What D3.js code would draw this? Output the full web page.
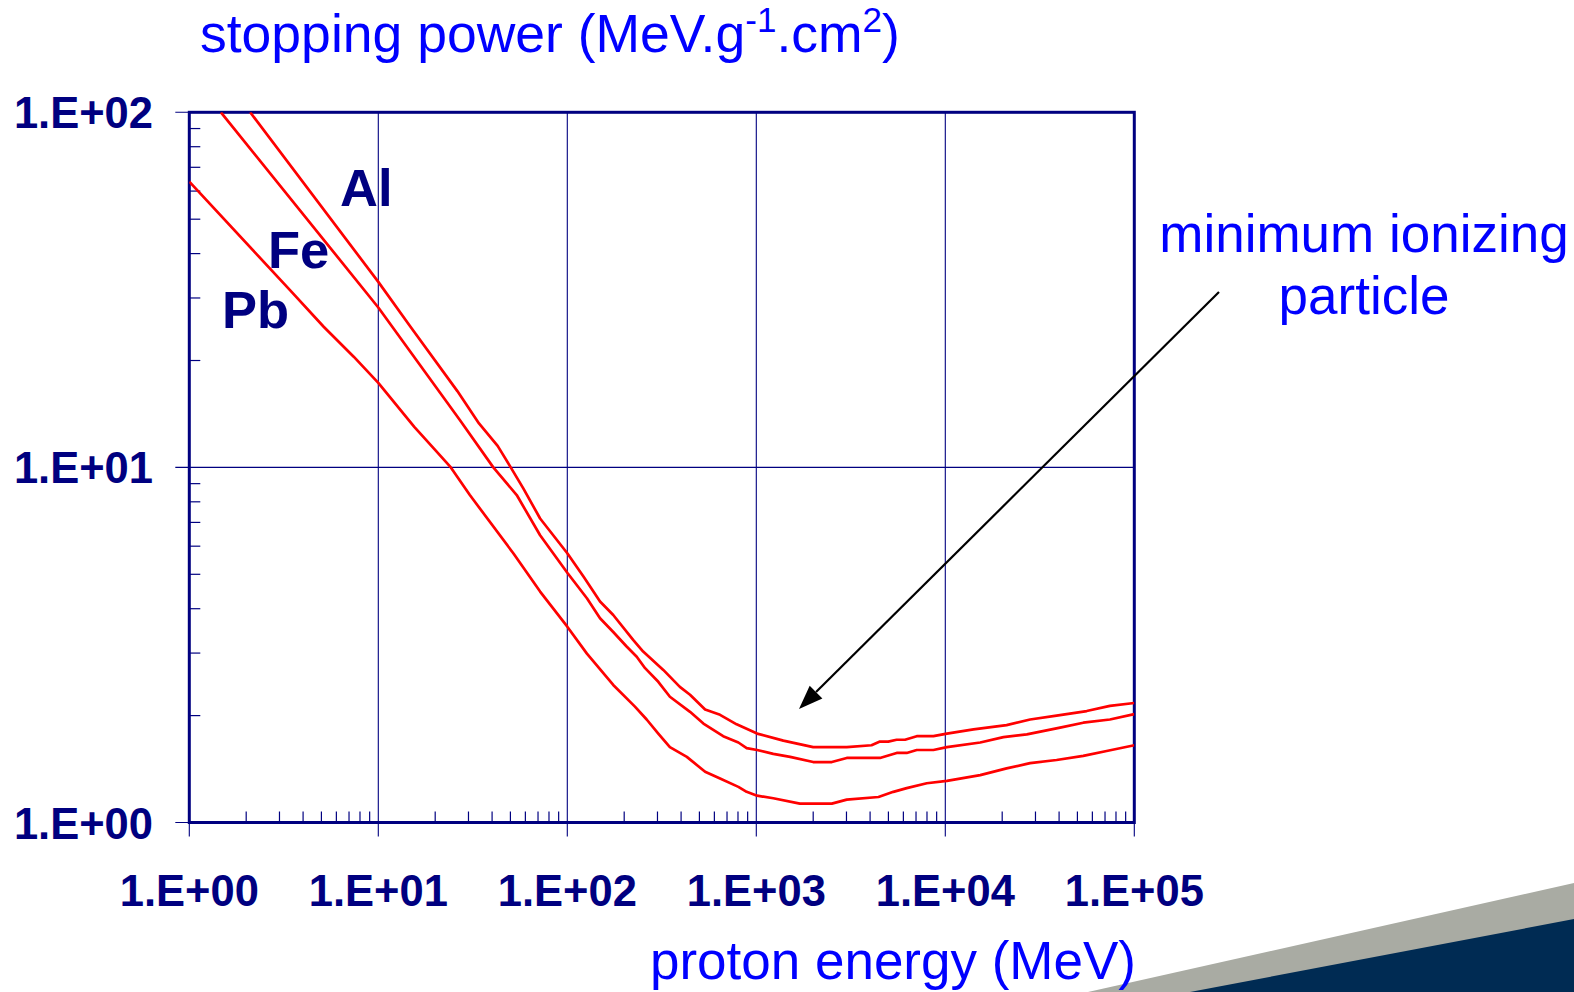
<!DOCTYPE html>
<html>
<head>
<meta charset="utf-8">
<script src="https://cdn.jsdelivr.net/npm/d3@7"></script>
<style>
  html, body { margin: 0; padding: 0; background: #fff; }
  svg { display: block; font-family: "Liberation Sans", Arial, Helvetica, sans-serif; }
</style>
</head>
<body>
<svg id="chart" width="1574" height="992"></svg>
<script>
// ---- data (proton energy in MeV, stopping power in MeV.g-1.cm2) ----
const alEnergy = [2.1, 10, 14.8, 26.2, 34.1, 42.8, 50.2, 58.5, 71.8, 100, 122, 149, 175, 223, 252, 322, 394, 446, 536, 643, 787, 1010, 1390, 2000, 3010, 4070, 4510, 4990, 5530, 6120, 7060, 8650, 10200, 14100, 21100, 28100, 38800, 56000, 74300, 100000];
const alStopping = [100, 33.3, 24.9, 16.4, 13.3, 11.5, 10.0, 8.73, 7.18, 5.73, 4.92, 4.19, 3.84, 3.27, 3.03, 2.69, 2.41, 2.29, 2.08, 2.01, 1.89, 1.78, 1.70, 1.63, 1.63, 1.65, 1.69, 1.69, 1.71, 1.71, 1.75, 1.75, 1.78, 1.83, 1.88, 1.95, 2.00, 2.06, 2.13, 2.17];

const feEnergy = [1.47, 10, 27.0, 40.6, 54.0, 71.8, 100, 127, 149, 175, 206, 233, 258, 303, 349, 446, 525, 668, 804, 889, 1010, 1230, 1510, 2000, 2510, 3010, 4510, 5530, 6250, 7060, 8650, 10200, 15300, 20300, 27000, 40500, 53700, 74300, 100000];
const feStopping = [100, 28.2, 13.6, 10.0, 8.36, 6.44, 5.05, 4.28, 3.76, 3.44, 3.13, 2.93, 2.72, 2.49, 2.26, 2.05, 1.90, 1.75, 1.68, 1.62, 1.60, 1.56, 1.53, 1.48, 1.48, 1.52, 1.52, 1.57, 1.57, 1.60, 1.60, 1.63, 1.68, 1.74, 1.77, 1.85, 1.91, 1.95, 2.02];

const pbEnergy = [1.0, 3.42, 5.14, 7.41, 10, 15.5, 19.7, 24.2, 30.5, 51.8, 71.8, 100, 127, 175, 228, 263, 303, 349, 429, 536, 643, 804, 889, 1010, 1230, 1700, 2510, 3010, 4430, 5310, 6250, 7980, 10200, 15300, 21100, 28100, 38800, 53700, 71400, 100000];
const pbStopping = [63.8, 31.5, 24.9, 20.5, 17.3, 13.0, 11.3, 10.0, 8.36, 5.73, 4.47, 3.56, 2.99, 2.44, 2.12, 1.95, 1.78, 1.63, 1.53, 1.39, 1.33, 1.26, 1.22, 1.19, 1.17, 1.13, 1.13, 1.16, 1.18, 1.22, 1.25, 1.29, 1.31, 1.36, 1.42, 1.47, 1.50, 1.54, 1.59, 1.65];

const seriesNames = ["Al", "Fe", "Pb"];
const xMajorTicks = [1, 10, 100, 1000, 10000, 100000];
const xTickLabels = ["1.E+00", "1.E+01", "1.E+02", "1.E+03", "1.E+04", "1.E+05"];
const yMajorTicks = [1, 10, 100];
const yTickLabels = ["1.E+00", "1.E+01", "1.E+02"];
const yTitle = "stopping power (MeV.g";
const xTitle = "proton energy (MeV)";
const noteLines = ["minimum ionizing", "particle"];

// ---- layout ----
const svg = d3.select("#chart");
const W = 1574, H = 992;
const plot = { left: 189.3, right: 1134.3, top: 112.3, bottom: 822.5 };
const navy = "#000080";

const x = d3.scaleLog().domain([1, 100000]).range([plot.left, plot.right]);
const y = d3.scaleLog().domain([1, 100]).range([plot.bottom, plot.top]);

svg.append("rect").attr("width", W).attr("height", H).attr("fill", "#fff");

// decorative corner
svg.append("polygon")
  .attr("points", [[1088, 992], [1574, 883], [1574, 992]].map(p => p.join(",")).join(" "))
  .attr("fill", "#a9aba3");
svg.append("polygon")
  .attr("points", [[1190, 992], [1574, 919], [1574, 992]].map(p => p.join(",")).join(" "))
  .attr("fill", "#002b53");

// minor ticks
const minorX = [];
for (let d = 1; d < 100000; d *= 10) for (let m = 2; m <= 9; m++) minorX.push(d * m);
const minorY = [];
for (let d = 1; d < 100; d *= 10) for (let m = 2; m <= 9; m++) minorY.push(d * m);

const g = svg.append("g");
g.selectAll(".mx").data(minorX).enter().append("line")
  .attr("x1", d => x(d)).attr("x2", d => x(d))
  .attr("y1", plot.bottom).attr("y2", plot.bottom - 11)
  .attr("stroke", navy).attr("stroke-width", 1.2);
g.selectAll(".my").data(minorY).enter().append("line")
  .attr("y1", d => y(d)).attr("y2", d => y(d))
  .attr("x1", plot.left).attr("x2", plot.left + 11)
  .attr("stroke", navy).attr("stroke-width", 1.2);

// grid lines + major ticks (extending outside)
g.selectAll(".gx").data(xMajorTicks).enter().append("line")
  .attr("x1", d => x(d)).attr("x2", d => x(d))
  .attr("y1", plot.top).attr("y2", plot.bottom + 14)
  .attr("stroke", navy).attr("stroke-width", 1.1);
g.selectAll(".gy").data(yMajorTicks).enter().append("line")
  .attr("y1", d => y(d)).attr("y2", d => y(d))
  .attr("x1", plot.left - 14).attr("x2", plot.right)
  .attr("stroke", navy).attr("stroke-width", 1.1);

// frame
g.append("rect")
  .attr("x", plot.left).attr("y", plot.top)
  .attr("width", plot.right - plot.left).attr("height", plot.bottom - plot.top)
  .attr("fill", "none").attr("stroke", navy).attr("stroke-width", 3);

// curves
const clip = svg.append("defs").append("clipPath").attr("id", "clip");
clip.append("rect").attr("x", plot.left).attr("y", plot.top)
  .attr("width", plot.right - plot.left).attr("height", plot.bottom - plot.top);

const line = d3.line().x(d => x(d[0])).y(d => y(d[1]));
const series = [
  d3.zip(alEnergy, alStopping),
  d3.zip(feEnergy, feStopping),
  d3.zip(pbEnergy, pbStopping)
];
svg.append("g").attr("clip-path", "url(#clip)")
  .selectAll("path").data(series).enter().append("path")
  .attr("d", line)
  .attr("fill", "none").attr("stroke", "#ff0000").attr("stroke-width", 2.7)
  .attr("stroke-linejoin", "round");

// tick labels
svg.selectAll(".xl").data(xMajorTicks).enter().append("text")
  .attr("x", d => x(d)).attr("y", 906)
  .attr("text-anchor", "middle")
  .attr("font-size", 43.5).attr("font-weight", "bold").attr("fill", navy)
  .text((d, i) => xTickLabels[i]);
svg.selectAll(".yl").data(yMajorTicks).enter().append("text")
  .attr("x", 153).attr("y", d => y(d) + 16)
  .attr("text-anchor", "end")
  .attr("font-size", 43.5).attr("font-weight", "bold").attr("fill", navy)
  .text((d, i) => yTickLabels[i]);

// series labels
const labelPos = [[340, 206], [268, 268], [222, 328]];
svg.selectAll(".sl").data(seriesNames).enter().append("text")
  .attr("x", (d, i) => labelPos[i][0]).attr("y", (d, i) => labelPos[i][1])
  .attr("font-size", 52.5).attr("font-weight", "bold").attr("fill", navy)
  .text(d => d);

// axis titles
const yt = svg.append("text").attr("x", 200).attr("y", 52)
  .attr("font-size", 53.5).attr("fill", "#0000ff");
yt.append("tspan").text(yTitle);
yt.append("tspan").attr("font-size", 35).attr("dy", -20).text("-1");
yt.append("tspan").attr("dy", 20).text(".cm");
yt.append("tspan").attr("font-size", 35).attr("dy", -20).text("2");
yt.append("tspan").attr("dy", 20).text(")");

svg.append("text").attr("x", 1136).attr("y", 979)
  .attr("text-anchor", "end")
  .attr("font-size", 53).attr("fill", "#0000ff")
  .text(xTitle);

// annotation
svg.selectAll(".note").data(noteLines).enter().append("text")
  .attr("x", 1364).attr("y", (d, i) => 252 + i * 62)
  .attr("text-anchor", "middle")
  .attr("font-size", 53).attr("fill", "#0000ff")
  .text(d => d);

// arrow
const a0 = [1219, 292], a1 = [799, 709];
const ang = Math.atan2(a1[1] - a0[1], a1[0] - a0[0]);
const headLen = 24, headHalf = 9;
const base = [a1[0] - headLen * Math.cos(ang), a1[1] - headLen * Math.sin(ang)];
svg.append("line")
  .attr("x1", a0[0]).attr("y1", a0[1]).attr("x2", base[0]).attr("y2", base[1])
  .attr("stroke", "#000").attr("stroke-width", 2.2);
svg.append("polygon")
  .attr("points", [
    a1,
    [base[0] + headHalf * Math.sin(ang), base[1] - headHalf * Math.cos(ang)],
    [base[0] - headHalf * Math.sin(ang), base[1] + headHalf * Math.cos(ang)]
  ].map(p => p.join(",")).join(" "))
  .attr("fill", "#000");
</script>
</body>
</html>
